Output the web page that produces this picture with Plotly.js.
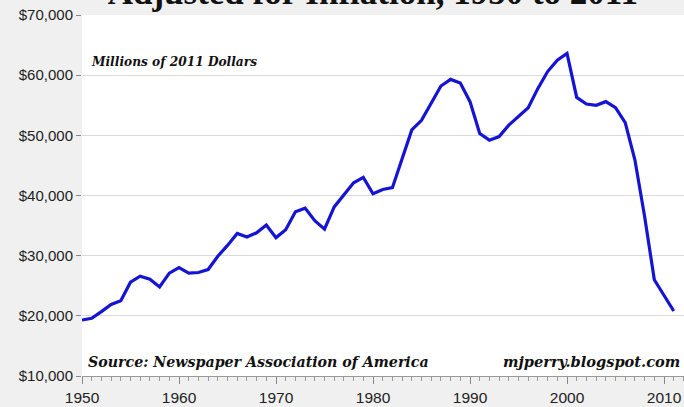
<!DOCTYPE html>
<html>
<head>
<meta charset="utf-8">
<script src="https://cdn.plot.ly/plotly-3.0.1.min.js"></script>
<style>html,body{margin:0;padding:0;background:#f0f0f0;}#chart{width:684px;height:407px;}</style>
</head>
<body>
<div id="chart"></div>
<script>
const years = [1950,1951,1952,1953,1954,1955,1956,1957,1958,1959,
               1960,1961,1962,1963,1964,1965,1966,1967,1968,1969,
               1970,1971,1972,1973,1974,1975,1976,1977,1978,1979,
               1980,1981,1982,1983,1984,1985,1986,1987,1988,1989,
               1990,1991,1992,1993,1994,1995,1996,1997,1998,1999,
               2000,2001,2002,2003,2004,2005,2006,2007,2008,2009,
               2010,2011];
const revenue = [19300,19600,20700,21900,22500,25600,26600,26100,24800,27100,
                 28000,27100,27200,27700,29900,31700,33700,33100,33800,35100,
                 33000,34300,37300,37900,35800,34400,38100,40000,42100,43000,
                 40300,41000,41300,46100,50900,52500,55300,58200,59300,58700,
                 55600,50300,49200,49800,51700,53200,54600,57800,60600,62500,
                 63600,56300,55200,55000,55600,54600,52100,45900,36500,26000,
                 23400,20800];
const yTickVals = [10000,20000,30000,40000,50000,60000,70000];
const yTickText = yTickVals.map(v => '$' + v.toLocaleString('en-US'));
const xTickVals = [1950,1960,1970,1980,1990,2000,2010];

const titleText = 'Adjusted for Inflation, 1950 to 2011';
const unitText = 'Millions of 2011 Dollars';
const sourceText = 'Source: Newspaper Association of America';
const siteText = 'mjperry.blogspot.com';

const trace = {
  x: years, y: revenue, type: 'scatter', mode: 'lines',
  line: {color: '#1414d2', width: 3.2},
  hoverinfo: 'x+y'
};

const serif = 'DejaVu Serif';
const layout = {
  width: 684, height: 407,
  margin: {l: 82, r: 0, t: 15, b: 31, pad: 0},
  paper_bgcolor: '#f0f0f0',
  plot_bgcolor: '#ffffff',
  showlegend: false,
  title: {
    text: '<b>' + titleText + '</b>',
    font: {family: 'Liberation Serif', size: 35, color: '#111'},
    xref: 'container', x: 0.545, xanchor: 'center',
    yref: 'container', y: 1 - 4/407, yanchor: 'bottom'
  },
  xaxis: {
    range: [1950, 2012.06],
    tickvals: xTickVals,
    ticks: 'outside', ticklen: 7, tickcolor: '#888', tickwidth: 1,
    showline: true, linecolor: '#999', linewidth: 1,
    showgrid: false, zeroline: false,
    tickfont: {family: 'Liberation Sans', size: 15.5, color: '#222'},
    minor: {dtick: 1, ticks: 'outside', ticklen: 4, tickcolor: '#999', showgrid: false}
  },
  yaxis: {
    range: [10000, 70000],
    tickvals: yTickVals, ticktext: yTickText,
    ticks: 'outside', ticklen: 5, tickcolor: '#888',
    showline: false, zeroline: false,
    showgrid: true, gridcolor: '#dadada', gridwidth: 1,
    tickfont: {family: 'Liberation Sans', size: 15, color: '#222'}
  },
  annotations: [
    {text: '<b><i>' + unitText + '</i></b>', xref: 'paper', yref: 'paper',
     x: 0.012, y: 0.87, xanchor: 'left', yanchor: 'middle', showarrow: false,
     font: {family: serif, size: 12.2, color: '#111'}},
    {text: '<b><i>' + sourceText + '</i></b>', xref: 'paper', yref: 'paper',
     x: 0.007, y: 0.039, xanchor: 'left', yanchor: 'middle', showarrow: false,
     font: {family: serif, size: 14.2, color: '#111'}},
    {text: '<b><i>' + siteText + '</i></b>', xref: 'paper', yref: 'paper',
     x: 0.997, y: 0.039, xanchor: 'right', yanchor: 'middle', showarrow: false,
     font: {family: serif, size: 14.6, color: '#111'}}
  ]
};

Plotly.newPlot('chart', [trace], layout, {displayModeBar: false, staticPlot: true});
</script>
</body>
</html>
